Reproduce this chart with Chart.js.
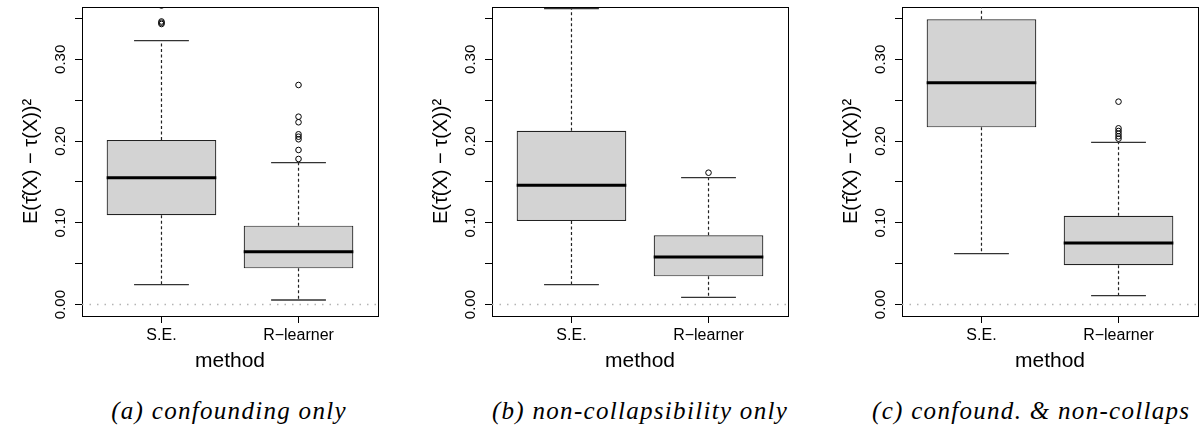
<!DOCTYPE html>
<html>
<head>
<meta charset="utf-8">
<script src="https://cdn.jsdelivr.net/npm/chart.js@4.4.1/dist/chart.umd.min.js"></script>
<style>
html,body{margin:0;padding:0;background:#fff;overflow:hidden;width:1199px;height:431px;}
canvas{position:absolute;top:0;}
.cap{position:absolute;top:396px;font-family:"Liberation Serif",serif;font-style:italic;font-size:25px;line-height:30px;letter-spacing:1.3px;white-space:nowrap;color:#000;}
</style>
</head>
<body>
<canvas id="c0" width="410" height="380" style="left:0px"></canvas>
<canvas id="c1" width="410" height="380" style="left:410px"></canvas>
<canvas id="c2" width="410" height="380" style="left:820px"></canvas>
<div class="cap" id="cap0" style="left:229px;transform:translateX(-50%)"></div>
<div class="cap" id="cap1" style="left:640px;transform:translateX(-50%)"></div>
<div class="cap" id="cap2" style="left:872px"></div>
<script>
// ---------- data ----------
const categories = ["S.E.", "R\u2212learner"];
const panelCaptions = ["(a) confounding only", "(b) non-collapsibility only", "(c) confound. & non-collaps"];
const yAxisTitle = "E(\u03C4\u0302(X) \u2212 \u03C4(X))\u00B2";
const xAxisTitle = "method";
const yTickValues = [0, 0.1, 0.2, 0.3];
const yTickLabels = ["0.00", "0.10", "0.20", "0.30"];
const yMinorStep = 0.05;
const yMin = -0.014, yMax = 0.364;
const xMin = 0.42, xMax = 2.58;

// [lower whisker, Q1, median, Q3, upper whisker]
const statsA_SE = [0.0243, 0.1092, 0.1552, 0.2013, 0.3228];
const statsA_RL = [0.0056, 0.0443, 0.0647, 0.0965, 0.1736];
const outA_SE = [0.3432, 0.3448, 0.3463, 0.3658];
const outA_RL = [0.1781, 0.1891, 0.2022, 0.2053, 0.2083, 0.2230, 0.2298, 0.2686];

const statsB_SE = [0.0243, 0.1022, 0.1459, 0.2127, 0.3620];
const statsB_RL = [0.0088, 0.0345, 0.0582, 0.0847, 0.1552];
const outB_SE = [];
const outB_RL = [0.1613];

const statsC_SE = [0.0623, 0.2168, 0.2714, 0.3489, 0.4500];
const statsC_RL = [0.0109, 0.0480, 0.0753, 0.1087, 0.1985];
const outC_SE = [];
const outC_RL = [0.2029, 0.2058, 0.2090, 0.2123, 0.2156, 0.2482];

// ---------- style ----------
const FONT = "'Liberation Sans', Arial, sans-serif";
const BOX_HALF = 0.4, CAP_HALF = 0.2;

function buildPanel(id, seStats, rlStats, seOut, rlOut) {
  const stats = [seStats, rlStats];
  const outs = [seOut, rlOut];
  const pos = categories.map((c, i) => i + 1);
  const boxData = stats.map((s, i) => ({x: pos[i], y: [s[1], s[3]]}));
  const medData = [], whiskData = [], capData = [];
  stats.forEach((s, i) => {
    const p = pos[i];
    medData.push({x: p - BOX_HALF, y: s[2]}, {x: p + BOX_HALF, y: s[2]}, {x: p, y: null});
    whiskData.push({x: p, y: s[3]}, {x: p, y: s[4]}, {x: p, y: null});
    whiskData.push({x: p, y: s[1]}, {x: p, y: s[0]}, {x: p, y: null});
    capData.push({x: p - CAP_HALF, y: s[4]}, {x: p + CAP_HALF, y: s[4]}, {x: p, y: null});
    capData.push({x: p - CAP_HALF, y: s[0]}, {x: p + CAP_HALF, y: s[0]}, {x: p, y: null});
  });
  const outData = [];
  outs.forEach((o, i) => o.forEach(v => outData.push({x: pos[i], y: v})));
  const zeroData = [{x: xMin, y: 0}, {x: xMax, y: 0}];

  const lineBase = {type: 'line', pointRadius: 0, fill: false, spanGaps: false, clip: 0, tension: 0};

  new Chart(document.getElementById(id), {
    type: 'bar',
    data: {
      datasets: [
        Object.assign({}, lineBase, {data: medData, borderColor: '#000', borderWidth: 3, borderCapStyle: 'butt', order: 0}),
        {type: 'scatter', data: outData, pointRadius: 2.8, pointBorderWidth: 1, pointBorderColor: '#000',
         pointBackgroundColor: 'rgba(0,0,0,0)', showLine: false, clip: 0, order: 1},
        Object.assign({}, lineBase, {data: capData, borderColor: '#333', borderWidth: 1.3, order: 2}),
        {type: 'bar', data: boxData, backgroundColor: '#d3d3d3', borderColor: '#222', borderWidth: 1.2,
         borderSkipped: false, categoryPercentage: 1, barPercentage: 0.8, clip: 0, order: 3},
        Object.assign({}, lineBase, {data: whiskData, borderColor: '#222', borderWidth: 1.2, borderDash: [3, 2.5], order: 4}),
        Object.assign({}, lineBase, {data: zeroData, borderColor: '#b4b4b4', borderWidth: 1.5, borderDash: [1.5, 6], order: 5})
      ]
    },
    options: {
      responsive: false, animation: false, devicePixelRatio: 1, events: [],
      layout: {padding: {left: 0, right: 32, top: 7, bottom: 0}},
      plugins: {legend: {display: false}, tooltip: {enabled: false}},
      scales: {
        x: {
          type: 'linear', position: 'bottom', min: xMin, max: xMax, offset: false,
          afterBuildTicks: s => { s.ticks = pos.map(v => ({value: v})); },
          afterFit: s => { s.height = 64; s.paddingLeft = 0; s.paddingRight = 0; },
          ticks: {autoSkip: false, maxRotation: 0, minRotation: 0, padding: 3, color: '#000',
                  font: {family: FONT, size: 16}, callback: (v, i) => categories[i]},
          grid: {display: true, drawOnChartArea: false, drawTicks: true, tickLength: 7, color: '#000', offset: false},
          border: {display: true, color: '#000', width: 1},
          title: {display: true, text: xAxisTitle, color: '#000', font: {family: FONT, size: 21}, padding: {top: 0, bottom: 6}}
        },
        y: {
          type: 'linear', position: 'left', min: yMin, max: yMax,
          afterFit: s => { s.width = 82; s.paddingTop = 0; s.paddingBottom = 0; },
          ticks: {stepSize: yMinorStep, includeBounds: false, minRotation: 90, maxRotation: 90,
                  crossAlign: 'center', padding: 0, color: '#000', font: {family: FONT, size: 15},
                  callback: v => {
                    const k = yTickValues.findIndex(t => Math.abs(t - v) < 1e-9);
                    return k >= 0 ? yTickLabels[k] : '';
                  }},
          grid: {display: true, drawOnChartArea: false, drawTicks: true, tickLength: 7, color: '#000'},
          border: {display: true, color: '#000', width: 1},
          title: {display: true, text: yAxisTitle, color: '#000', font: {family: FONT, size: 20}, padding: {top: 19, bottom: 0}}
        },
        xTop: {
          type: 'linear', position: 'top', min: xMin, max: xMax,
          afterFit: s => { s.height = 0; },
          ticks: {display: false}, grid: {display: false},
          border: {display: true, color: '#000', width: 1}
        },
        yRight: {
          type: 'linear', position: 'right', min: yMin, max: yMax,
          afterFit: s => { s.width = 0; },
          ticks: {display: false}, grid: {display: false},
          border: {display: true, color: '#000', width: 1}
        }
      }
    }
  });
}

buildPanel('c0', statsA_SE, statsA_RL, outA_SE, outA_RL);
buildPanel('c1', statsB_SE, statsB_RL, outB_SE, outB_RL);
buildPanel('c2', statsC_SE, statsC_RL, outC_SE, outC_RL);
panelCaptions.forEach((t, i) => { document.getElementById('cap' + i).textContent = t; });
</script>
</body>
</html>
